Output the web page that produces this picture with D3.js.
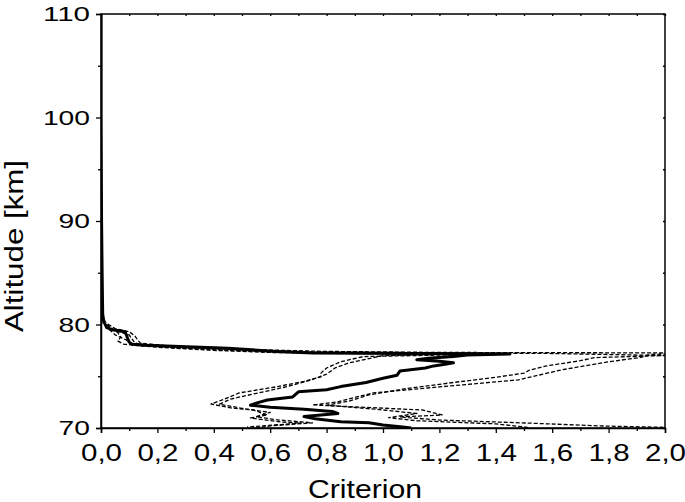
<!DOCTYPE html>
<html>
<head>
<meta charset="utf-8">
<script src="https://cdn.jsdelivr.net/npm/d3@7"></script>
<style>
  html, body { margin: 0; padding: 0; background: #fff; }
  #chart { width: 685px; height: 502px; }
  text { font-family: "Liberation Sans", Arial, sans-serif; fill: #000; }
</style>
</head>
<body>
<div id="chart"></div>
<script>
// altitude profiles of the criterion (mean + dashed envelopes)

const altTicks = [70, 80, 90, 100, 110];
const altMinorTicks = [75, 85, 95, 105];
const critTicks = [0, 0.2, 0.4, 0.6, 0.8, 1.0, 1.2, 1.4, 1.6, 1.8, 2.0];

// mean profile (thick solid)
const meanAlt = [110, 100, 90, 85, 81, 80.3, 80.0, 79.7, 79.5, 79.3, 79.0, 78.6, 78.3, 78.1, 78.0, 77.7, 77.4, 77.25, 77.2, 77.15,
    77.05, 76.9, 76.75, 76.6, 76.45, 76.3, 76.15, 76.0, 75.8, 75.5, 75.1, 74.8, 74.4, 74.0, 73.7, 73.5, 73.0, 72.7, 72.4, 72.2,
    72.0, 71.8, 71.6, 71.4, 71.1, 70.9, 70.6, 70.5, 70.3, 70.1, 70.0];
const meanVal = [0, 0, 0.002, 0.004, 0.006, 0.01, 0.015, 0.02, 0.04, 0.085, 0.09, 0.095, 0.10, 0.11, 0.16, 0.45, 0.62, 0.75, 1.1, 1.45,
    1.3, 1.25, 1.16, 1.12, 1.2, 1.25, 1.22, 1.18, 1.15, 1.06, 1.05, 1.0, 0.94, 0.85, 0.80, 0.70, 0.68, 0.59, 0.55, 0.53,
    0.60, 0.72, 0.82, 0.84, 0.72, 0.76, 0.85, 0.95, 1.0, 1.07, 1.1];

// lower envelopes (dashed)
const low1Alt = [110, 90, 81, 80.2, 79.6, 79.2, 78.8, 78.4, 78.1, 77.8, 77.5, 77.3, 77.2, 77.1, 76.9, 76.4, 75.8, 75.3, 74.94,
    74.5, 73.97, 73.39, 72.71, 72.32, 71.94, 71.74, 71.26, 70.97, 70.58, 70.48, 70.1, 70.0];
const low1Val = [0, 0, 0.004, 0.01, 0.04, 0.06, 0.07, 0.06, 0.08, 0.2, 0.4, 0.6, 0.9, 1.3, 0.93, 0.85, 0.80, 0.78, 0.78,
    0.72, 0.62, 0.49, 0.43, 0.39, 0.46, 0.54, 0.59, 0.53, 0.64, 0.71, 0.52, 0.52];
const low2Alt = [110, 90, 81, 80.1, 79.5, 79.0, 78.5, 78.0, 77.7, 77.4, 77.25, 77.15, 77.0, 76.7, 76.3, 75.8, 75.2, 74.6,
    74.0, 73.4, 72.8, 72.3, 71.9, 71.5, 71.1, 70.8, 70.5, 70.2, 70.0];
const low2Val = [0, 0, 0.003, 0.008, 0.03, 0.05, 0.09, 0.11, 0.3, 0.55, 0.8, 1.25, 1.0, 0.95, 0.88, 0.83, 0.80, 0.74,
    0.66, 0.56, 0.46, 0.42, 0.50, 0.60, 0.55, 0.62, 0.75, 0.60, 0.55];

// upper envelopes (dashed)
const up1Alt = [110, 90, 81, 80.2, 79.6, 79.3, 78.9, 78.5, 78.2, 77.9, 77.6, 77.4, 77.3, 77.25, 77.1, 76.8, 76.4, 75.6,
    74.65, 73.97, 73.39, 72.52, 72.23, 71.74, 71.26, 71.07, 70.77, 70.48, 70.2, 70.0];
const up1Val = [0, 0, 0.006, 0.015, 0.05, 0.10, 0.12, 0.13, 0.14, 0.25, 0.5, 0.8, 1.2, 2.1, 1.95, 1.91, 1.80, 1.63,
    1.48, 1.20, 0.965, 0.837, 0.75, 1.14, 1.21, 1.06, 1.20, 1.51, 1.77, 2.1];
const up2Alt = [110, 90, 81, 80.2, 79.5, 79.0, 78.6, 78.2, 77.9, 77.6, 77.35, 77.2, 77.0, 76.8, 76.5, 76.0, 75.6, 75.3,
    74.9, 74.4, 73.8, 73.2, 72.6, 72.2, 71.8, 71.4, 71.0, 70.7, 70.4, 70.1, 70.0];
const up2Val = [0, 0, 0.005, 0.012, 0.04, 0.10, 0.11, 0.12, 0.2, 0.45, 0.75, 1.6, 2.0, 1.75, 1.70, 1.58, 1.52, 1.50,
    1.40, 1.25, 1.08, 0.95, 0.88, 0.80, 0.98, 1.12, 1.02, 1.12, 1.40, 1.50, 1.52];

(function () {
    'use strict';

    const W = 685, H = 502;
    const margin = { top: 14, right: 20, bottom: 74, left: 101 };
    const width = W - margin.left - margin.right;
    const height = H - margin.top - margin.bottom;

    const svg = d3.select('#chart').append('svg')
        .attr('width', W).attr('height', H);
    const g = svg.append('g')
        .attr('transform', 'translate(' + margin.left + ',' + margin.top + ')');

    // scales
    const xScale = d3.scaleLinear().domain([0, 2]).range([0, width]);
    const yScale = d3.scaleLinear().domain([70, 110]).range([height, 0]);

    // comma decimal separator
    const fmt = d3.formatLocale({ decimal: ',', thousands: '.', grouping: [3], currency: ['', ''] }).format('.1f');

    g.append('clipPath').attr('id', 'plot-clip')
        .append('rect').attr('width', width).attr('height', height);

    // profiles
    const line = d3.line()
        .x(function (d) { return xScale(d[0]); })
        .y(function (d) { return yScale(d[1]); });

    const series = [
        { val: low1Val, alt: low1Alt, dashed: true },
        { val: low2Val, alt: low2Alt, dashed: true },
        { val: up1Val, alt: up1Alt, dashed: true },
        { val: up2Val, alt: up2Alt, dashed: true },
        { val: meanVal, alt: meanAlt, dashed: false }
    ];

    const lines = g.append('g').attr('clip-path', 'url(#plot-clip)');
    series.forEach(function (s) {
        lines.append('path')
            .datum(d3.zip(s.val, s.alt))
            .attr('d', line)
            .attr('fill', 'none')
            .attr('stroke', '#000')
            .attr('stroke-width', s.dashed ? 1.3 : 3)
            .attr('stroke-dasharray', s.dashed ? '4,2' : null)
            .attr('stroke-linejoin', 'round');
    });

    // axes
    const xAxis = d3.axisBottom(xScale).tickValues(critTicks).tickSize(5).tickPadding(12).tickFormat(fmt);
    const xMinor = d3.axisBottom(xScale).tickValues(d3.range(0.1, 2, 0.2)).tickSize(3).tickFormat('');
    const yAxis = d3.axisLeft(yScale).tickValues(altTicks).tickSize(5).tickPadding(6).tickFormat(d3.format('d'));
    const yMinor = d3.axisLeft(yScale).tickValues(altMinorTicks).tickSize(3).tickFormat('');

    // mirrored small inward ticks on top / right
    const allX = critTicks.concat(d3.range(0.1, 2, 0.2));
    const allY = altTicks.concat(altMinorTicks);
    g.append('g').attr('class', 'mirror')
        .call(d3.axisBottom(xScale).tickValues(allX).tickSize(2).tickFormat(''));
    g.append('g').attr('class', 'mirror').attr('transform', 'translate(' + width + ',0)')
        .call(d3.axisRight(yScale).tickValues(allY).tickSize(-2).tickFormat(''));

    g.append('g').attr('class', 'xaxis').attr('transform', 'translate(0,' + height + ')').call(xAxis);
    g.append('g').attr('class', 'xminor').attr('transform', 'translate(0,' + height + ')').call(xMinor);
    g.append('g').attr('class', 'yaxis').call(yAxis);
    g.append('g').attr('class', 'yminor').call(yMinor);

    g.selectAll('.mirror .domain, .xminor .domain, .yminor .domain').remove();
    g.selectAll('.tick line').attr('stroke', '#000').attr('stroke-width', 1.3);
    g.selectAll('.domain').attr('stroke', '#000').attr('stroke-width', 1.5);

    // the labels in the reference are drawn wide
    g.selectAll('.xaxis text')
        .style('font-size', '23px')
        .attr('textLength', 41).attr('lengthAdjust', 'spacingAndGlyphs');
    g.selectAll('.yaxis text')
        .style('font-size', '21px')
        .attr('textLength', function (d) { return String(d).length * 15.7; })
        .attr('lengthAdjust', 'spacingAndGlyphs');

    // frame
    g.append('rect')
        .attr('width', width).attr('height', height)
        .attr('fill', 'none').attr('stroke', '#000').attr('stroke-width', 1.5);

    // axis titles
    svg.append('text')
        .attr('x', 365).attr('y', 498)
        .attr('text-anchor', 'middle')
        .style('font-size', '25px')
        .attr('textLength', 114).attr('lengthAdjust', 'spacingAndGlyphs')
        .text('Criterion');

    svg.append('text')
        .attr('transform', 'translate(23,246) rotate(-90)')
        .attr('text-anchor', 'middle')
        .style('font-size', '25px')
        .attr('textLength', 172).attr('lengthAdjust', 'spacingAndGlyphs')
        .text('Altitude [km]');
}());
</script>
</body>
</html>
